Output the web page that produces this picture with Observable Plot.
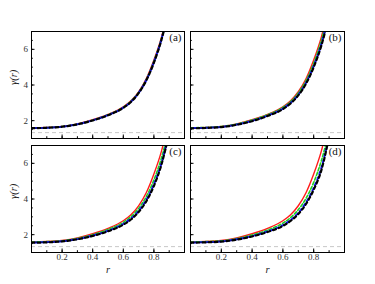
<!DOCTYPE html>
<html>
<head>
<meta charset="utf-8">
<script src="https://cdn.jsdelivr.net/npm/d3@7"></script>
<script src="https://cdn.jsdelivr.net/npm/@observablehq/plot@0.6"></script>
<style>
  html, body { margin: 0; padding: 0; background: white; }
  #chart { position: relative; width: 375px; height: 284px; overflow: hidden; background: white; }
  #chart > svg { position: absolute; }
</style>
</head>
<body>
<div id="chart"></div>
<script>
// radial coordinate samples
const rValues = [0, 0.1, 0.2, 0.3, 0.4, 0.5, 0.6, 0.65, 0.7, 0.75, 0.8, 0.85, 0.9];
const panelLabels = ["(a)", "(b)", "(c)", "(d)"];
const seriesNames = ["red", "green", "blue", "black"];
const xTickLabels = [0.2, 0.4, 0.6, 0.8];
const yTickLabels = [2, 4, 6];
const asymptote = 1.33;

// red reference curve (same in every panel)
const redCurve = [1.60, 1.62, 1.68, 1.82, 2.05, 2.35, 2.78, 3.12, 3.62, 4.35, 5.40, 6.70, 8.50];
// panel (a)
const aGreen = [1.59, 1.61, 1.67, 1.81, 2.03, 2.33, 2.75, 3.09, 3.58, 4.30, 5.33, 6.62, 8.40];
const aBlue  = [1.58, 1.60, 1.66, 1.80, 2.02, 2.31, 2.73, 3.06, 3.56, 4.27, 5.28, 6.58, 8.35];
const aBlack = [1.58, 1.60, 1.66, 1.79, 2.01, 2.30, 2.72, 3.05, 3.54, 4.25, 5.25, 6.55, 8.30];
// panel (b)
const bGreen = [1.60, 1.62, 1.67, 1.81, 2.03, 2.33, 2.74, 3.07, 3.55, 4.24, 5.22, 6.50, 8.20];
const bBlue  = [1.58, 1.60, 1.65, 1.78, 1.99, 2.28, 2.68, 3.00, 3.46, 4.12, 5.06, 6.30, 8.00];
const bBlack = [1.57, 1.59, 1.64, 1.77, 1.97, 2.26, 2.65, 2.97, 3.42, 4.07, 5.00, 6.22, 7.90];
// panel (c)
const cGreen = [1.59, 1.61, 1.66, 1.79, 2.00, 2.29, 2.69, 3.01, 3.47, 4.13, 5.07, 6.32, 8.00];
const cBlue  = [1.56, 1.58, 1.63, 1.75, 1.95, 2.22, 2.60, 2.90, 3.33, 3.95, 4.83, 6.02, 7.75];
const cBlack = [1.55, 1.57, 1.62, 1.74, 1.93, 2.19, 2.56, 2.85, 3.27, 3.87, 4.73, 5.95, 7.70];
// panel (d)
const dGreen = [1.59, 1.61, 1.65, 1.78, 1.98, 2.26, 2.65, 2.96, 3.40, 4.03, 4.93, 6.15, 7.80];
const dBlue  = [1.56, 1.58, 1.62, 1.74, 1.92, 2.18, 2.53, 2.82, 3.22, 3.80, 4.62, 5.75, 7.55];
const dBlack = [1.55, 1.57, 1.61, 1.72, 1.90, 2.15, 2.49, 2.77, 3.16, 3.72, 4.52, 5.62, 7.50];

const panelSeries = [
  [redCurve, aGreen, aBlue, aBlack],
  [redCurve, bGreen, bBlue, bBlack],
  [redCurve, cGreen, cBlue, cBlack],
  [redCurve, dGreen, dBlue, dBlack]
];

const styles = {
  red:   {stroke: "#ff1a1a", strokeWidth: 1.4},
  green: {stroke: "#1fd11f", strokeWidth: 1.6, strokeDasharray: "3,2"},
  blue:  {stroke: "#1a1aff", strokeWidth: 2.0, strokeDasharray: "3,3", strokeDashoffset: 3},
  black: {stroke: "#000000", strokeWidth: 2.2, strokeDasharray: "3,3"}
};

const layout = [
  {left: 0,   top: 0,   width: 187, height: 141, mL: 31, mR: 3, mT: 31, mB: 3,  yLab: true,  xLab: false},
  {left: 187, top: 0,   width: 160, height: 141, mL: 3,  mR: 3, mT: 31, mB: 3,  yLab: false, xLab: false},
  {left: 0,   top: 142, width: 187, height: 142, mL: 31, mR: 3, mT: 3,  mB: 32, yLab: true,  xLab: true},
  {left: 187, top: 142, width: 160, height: 142, mL: 3,  mR: 3, mT: 3,  mB: 32, yLab: false, xLab: true}
];

const chart = document.getElementById("chart");
const serif = "'Liberation Serif', 'DejaVu Serif', serif";

panelSeries.forEach((series, p) => {
  const L = layout[p];
  const marks = [];
  marks.push(Plot.ruleY([asymptote], {stroke: "#c8c8c8", strokeWidth: 1, strokeDasharray: "4,3"}));
  series.forEach((vals, s) => {
    const rows = rValues.map((r, i) => ({r, g: vals[i]}));
    marks.push(Plot.line(rows, {x: "r", y: "g", curve: "monotone-x", clip: true, ...styles[seriesNames[s]]}));
  });
  // axes (ticks inside the frame)
  marks.push(Plot.axisY(d3.range(1, 7.01, 0.5), {label: null, tickSize: -1.8, tickFormat: () => "", stroke: "black"}));
  marks.push(Plot.axisY(yTickLabels, {label: null, tickSize: -3.5, tickPadding: L.yLab ? 7 : 0,
    tickFormat: L.yLab ? (d => d) : (() => ""), fontSize: 9, fill: "#333"}));
  marks.push(Plot.axisX(d3.range(0.1, 1, 0.1), {label: null, tickSize: -1.8, tickFormat: () => "", stroke: "black"}));
  marks.push(Plot.axisX(xTickLabels, {label: null, tickSize: -3.5, tickPadding: L.xLab ? 5 : 0,
    tickFormat: L.xLab ? (d => d.toFixed(1)) : (() => ""), fontSize: 9, fill: "#333"}));
  marks.push(Plot.frame({stroke: "black", strokeWidth: 1}));
  marks.push(Plot.text([panelLabels[p]], {frameAnchor: "top-right", dx: -3, dy: 2, lineAnchor: "top",
    text: d => d, textAnchor: "end", fontSize: 11, fill: "#111"}));
  if (L.yLab) {
    marks.push(Plot.text(["γ(r)"], {frameAnchor: "left", dx: -18, text: d => d, rotate: -90,
      fontSize: 10.5, fontStyle: "italic", fill: "#222"}));
  }
  if (L.xLab) {
    marks.push(Plot.text(["r"], {frameAnchor: "bottom", dy: 17, text: d => d, lineAnchor: "middle",
      fontSize: 10.5, fontStyle: "italic", fill: "#222"}));
  }
  const svg = Plot.plot({
    width: L.width, height: L.height,
    marginLeft: L.mL, marginRight: L.mR, marginTop: L.mT, marginBottom: L.mB,
    x: {domain: [0, 1], axis: null},
    y: {domain: [1, 7], axis: null},
    style: {fontFamily: serif, fontSize: "9px", background: "transparent", overflow: "visible"},
    marks
  });
  svg.style.left = L.left + "px";
  svg.style.top = L.top + "px";
  chart.appendChild(svg);
});
</script>
</body>
</html>
